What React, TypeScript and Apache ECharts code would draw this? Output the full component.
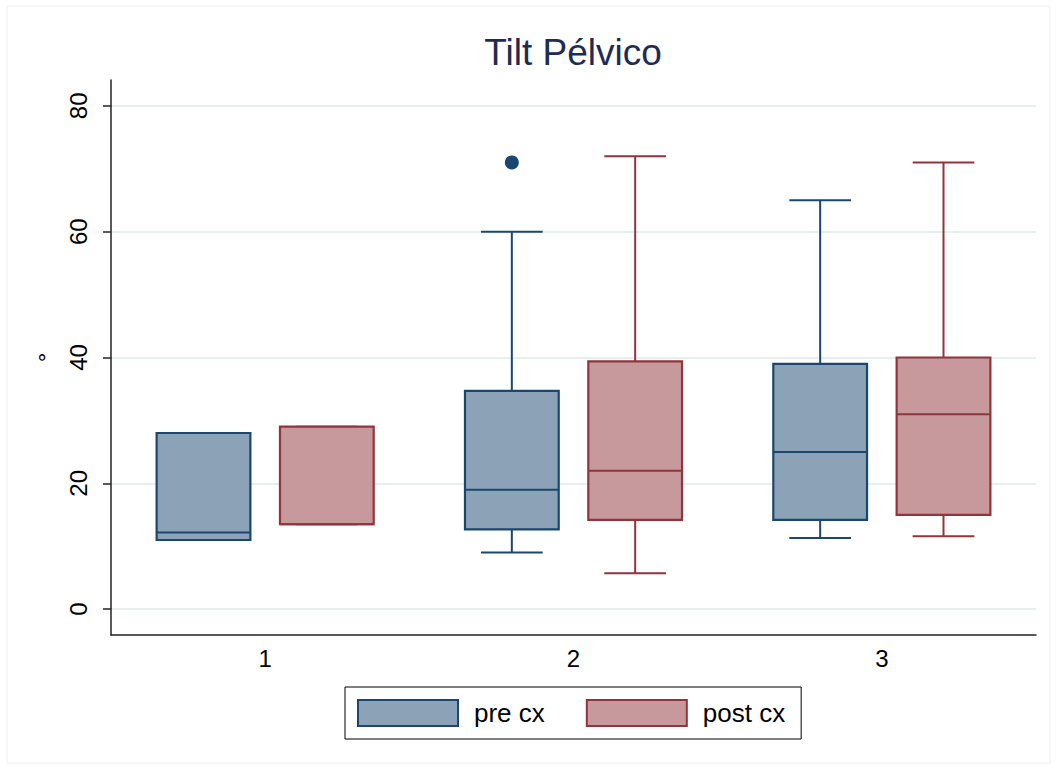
import React, { useEffect, useRef } from 'react';
import * as echarts from 'echarts';

const categories = ['1', '2', '3'];
const seriesNames = ['pre cx', 'post cx'];
// each row: [min, q1, median, q3, max]
const preBoxes = [
  [11, 11, 12.2, 28, 28],
  [9, 12.7, 19, 34.7, 60],
  [11.3, 14.2, 25, 39, 65],
];
const postBoxes = [
  [13.5, 13.5, 13.5, 29, 29],
  [5.7, 14.2, 22, 39.4, 72],
  [11.6, 15, 31, 40, 71],
];
// each row: [category index, value]
const preOutliers = [[1, 71]];
const postOutliers: number[][] = [];
const yTicks = [0, 20, 40, 60, 80];

const NAVY = '#1a476f';
const NAVY_FILL = '#8ca3b7';
const MAROON = '#90353b';
const MAROON_FILL = '#c7999c';
const FONT = '"Liberation Sans", Arial, Helvetica, sans-serif';

function boxRenderer(offset: number, stroke: string, fill: string) {
  return (params: any, api: any) => {
    const cat = api.value(0);
    const band = api.size([1, 0])[0];
    const cx = api.coord([cat, 0])[0] + offset * band;
    const hw = 0.152 * band;
    const capHw = 0.1 * band;
    const yMin = api.coord([cat, api.value(1)])[1];
    const yQ1 = api.coord([cat, api.value(2)])[1];
    const yMed = api.coord([cat, api.value(3)])[1];
    const yQ3 = api.coord([cat, api.value(4)])[1];
    const yMax = api.coord([cat, api.value(5)])[1];
    const ls = { stroke, lineWidth: 2, fill: null };
    return {
      type: 'group',
      children: [
        { type: 'line', shape: { x1: cx, y1: yQ3, x2: cx, y2: yMax }, style: ls },
        { type: 'line', shape: { x1: cx, y1: yQ1, x2: cx, y2: yMin }, style: ls },
        { type: 'line', shape: { x1: cx - capHw, y1: yMax, x2: cx + capHw, y2: yMax }, style: ls },
        { type: 'line', shape: { x1: cx - capHw, y1: yMin, x2: cx + capHw, y2: yMin }, style: ls },
        {
          type: 'rect',
          shape: { x: cx - hw, y: yQ3, width: 2 * hw, height: yQ1 - yQ3 },
          style: { fill, stroke, lineWidth: 2.2 },
        },
        { type: 'line', shape: { x1: cx - hw, y1: yMed, x2: cx + hw, y2: yMed }, style: ls },
      ],
    };
  };
}

function outlierRenderer(offset: number, color: string) {
  return (params: any, api: any) => {
    const cat = api.value(0);
    const band = api.size([1, 0])[0];
    const p = api.coord([cat, api.value(1)]);
    return {
      type: 'circle',
      shape: { cx: p[0] + offset * band, cy: p[1], r: 7 },
      style: { fill: color },
    };
  };
}

export default function App() {
  const ref = useRef<HTMLDivElement>(null);
  useEffect(() => {
    if (!ref.current) return;
    const chart = echarts.init(ref.current, undefined, { renderer: 'svg' });
    const preData = preBoxes.map((r, i) => [i, ...r]);
    const postData = postBoxes.map((r, i) => [i, ...r]);
    chart.setOption({
      animation: false,
      backgroundColor: '#ffffff',
      title: {
        text: 'Tilt Pélvico',
        left: 568,
        textAlign: 'center',
        top: 29,
        textStyle: { fontFamily: FONT, fontSize: 37, fontWeight: 'normal', color: '#1e2c55' },
      },
      graphic: [
        {
          type: 'rect',
          shape: { x: 7, y: 6, width: 1043, height: 757 },
          style: { fill: 'none', stroke: '#eef1f2', lineWidth: 1 },
          silent: true,
          z: -1,
        },
      ],
      legend: {
        left: 345,
        top: 687,
        orient: 'horizontal',
        itemWidth: 100,
        itemHeight: 26,
        itemGap: 41,
        padding: [12, 16, 12, 12],
        borderColor: '#000',
        borderWidth: 1,
        textStyle: { fontFamily: FONT, fontSize: 26, color: '#000', padding: [0, 0, 0, 11] },
        data: [
          { name: seriesNames[0], icon: 'rect', itemStyle: { color: NAVY_FILL, borderColor: NAVY, borderWidth: 2 } },
          { name: seriesNames[1], icon: 'rect', itemStyle: { color: MAROON_FILL, borderColor: MAROON, borderWidth: 2 } },
        ],
        selectedMode: false,
      },
      grid: { left: 111, right: 21, top: 80, bottom: 135, containLabel: false },
      xAxis: {
        type: 'category',
        data: categories,
        boundaryGap: true,
        axisLine: { show: true, onZero: false, lineStyle: { color: '#222', width: 1.5 } },
        axisTick: { show: false },
        axisLabel: { fontFamily: FONT, fontSize: 24, color: '#000', margin: 11 },
        splitLine: { show: false },
      },
      yAxis: {
        type: 'value',
        min: -4.1,
        max: 84.1,
        name: '°',
        nameLocation: 'middle',
        nameGap: 51,
        nameTextStyle: { fontFamily: FONT, fontSize: 24, color: '#000' },
        axisLine: { show: true, lineStyle: { color: '#222', width: 1.5 } },
        axisTick: { show: true, length: 8, customValues: yTicks, lineStyle: { color: '#222', width: 1.5 } },
        axisLabel: { fontFamily: FONT, fontSize: 24, color: '#000', rotate: 90, margin: 21, customValues: yTicks },
        splitLine: { show: true, customValues: yTicks, lineStyle: { color: '#e6eff0', width: 2 } },
      },
      series: [
        {
          type: 'custom',
          name: seriesNames[0],
          renderItem: boxRenderer(-0.2, NAVY, NAVY_FILL),
          encode: { x: 0, y: [1, 2, 3, 4, 5] },
          itemStyle: { color: NAVY_FILL },
          data: preData,
        },
        {
          type: 'custom',
          name: seriesNames[1],
          renderItem: boxRenderer(0.2, MAROON, MAROON_FILL),
          encode: { x: 0, y: [1, 2, 3, 4, 5] },
          itemStyle: { color: MAROON_FILL },
          data: postData,
        },
        {
          type: 'custom',
          name: seriesNames[0],
          renderItem: outlierRenderer(-0.2, NAVY),
          encode: { x: 0, y: 1 },
          data: preOutliers,
        },
        {
          type: 'custom',
          name: seriesNames[1],
          renderItem: outlierRenderer(0.2, MAROON),
          encode: { x: 0, y: 1 },
          data: postOutliers,
        },
      ],
    });
    return () => chart.dispose();
  }, []);
  return (
    <div
      ref={ref}
      style={{ position: 'absolute', left: 0, top: 0, width: 1057, height: 770 }}
    />
  );
}
